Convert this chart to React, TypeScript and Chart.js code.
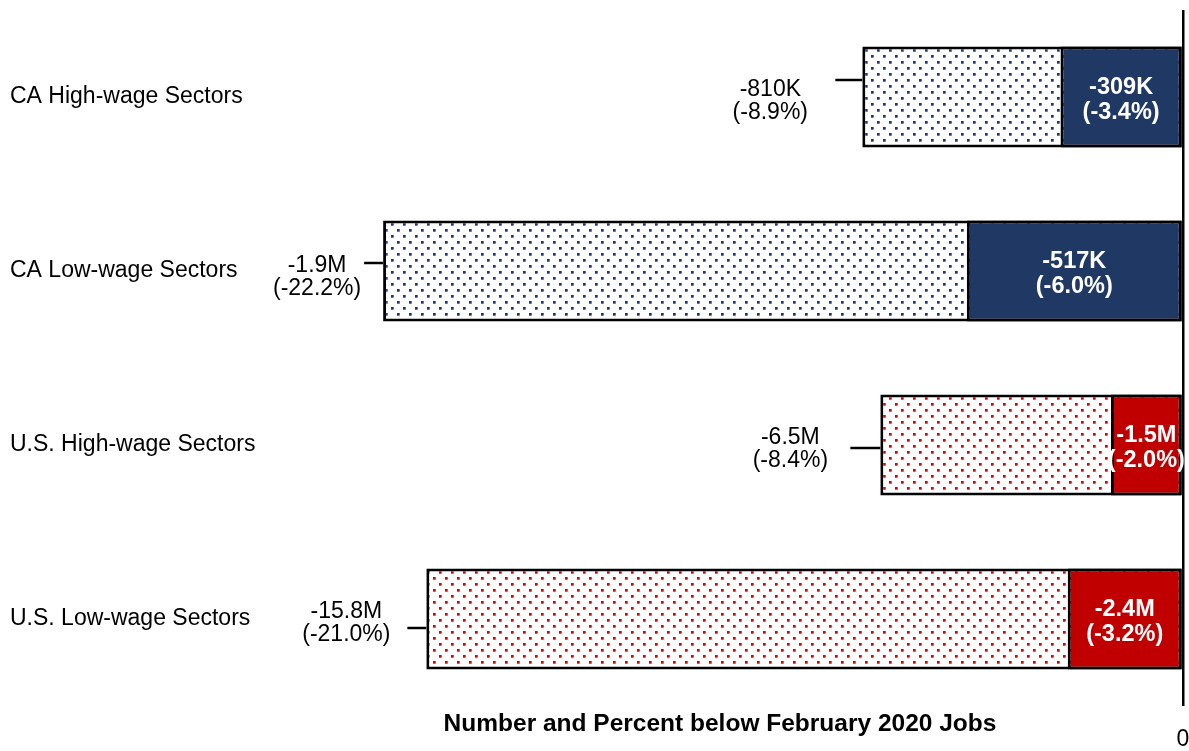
import { useEffect, useRef } from "react";
import { Chart, registerables } from "chart.js";

Chart.register(...registerables);

// Sector groups, top to bottom
const categories = [
  "CA High-wage Sectors",
  "CA Low-wage Sectors",
  "U.S. High-wage Sectors",
  "U.S. Low-wage Sectors",
];

// Deepest loss below February 2020 (dotted bars)
const troughPct = [-8.9, -22.2, -8.4, -21.0];
const troughJobs = ["-810K", "-1.9M", "-6.5M", "-15.8M"];

// Current loss below February 2020 (solid bars)
const currentPct = [-3.4, -6.0, -2.0, -3.2];
const currentJobs = ["-309K", "-517K", "-1.5M", "-2.4M"];

const xTickValues = [0];
const axisTitle = "Number and Percent below February 2020 Jobs";

const FONT = "'Liberation Sans', Arial, Helvetica, sans-serif";
const NAVY = "#203864";
const NAVY_DOT = "#1b357a";
const RED = "#c00000";
const RED_DOT = "#dd0000";

// Placement of the callout text and leader line left of each dotted bar
const CALLOUTS = [
  { textDx: -92, textDy: 4, lineDy: -17, lineLen: 27 },
  { textDx: -66, textDy: 6, lineDy: -8, lineLen: 19 },
  { textDx: -90, textDy: 4, lineDy: 3, lineLen: 30 },
  { textDx: -80, textDy: 4, lineDy: 9, lineLen: 19 },
];

function dotPattern(color: string): CanvasPattern | string {
  const c = document.createElement("canvas");
  c.width = 12;
  c.height = 12;
  const g = c.getContext("2d");
  if (!g) return "#fff";
  g.fillStyle = "#ffffff";
  g.fillRect(0, 0, 12, 12);
  g.fillStyle = color;
  g.fillRect(1, 1, 2.7, 2.7);
  g.fillRect(7, 7, 2.7, 2.7);
  return g.createPattern(c, "repeat") || "#fff";
}

const calloutPlugin = {
  id: "callouts",
  afterDatasetsDraw(chart: any) {
    const ctx: CanvasRenderingContext2D = chart.ctx;
    const solidMeta = chart.getDatasetMeta(0);
    const dottedMeta = chart.getDatasetMeta(1);
    ctx.save();

    // labels left of the dotted bars
    dottedMeta.data.forEach((el: any, i: number) => {
      const { x, y } = el.getProps(["x", "y"], true);
      const c = CALLOUTS[i];
      ctx.strokeStyle = "#000";
      ctx.lineWidth = 2.5;
      ctx.beginPath();
      ctx.moveTo(x - c.lineLen, y + c.lineDy);
      ctx.lineTo(x, y + c.lineDy);
      ctx.stroke();

      ctx.fillStyle = "#000";
      ctx.font = `23px ${FONT}`;
      ctx.textAlign = "center";
      ctx.textBaseline = "middle";
      const lh = 23;
      const cx = x + c.textDx;
      const cy = y + c.textDy;
      ctx.fillText(troughJobs[i], cx, cy - lh / 2);
      ctx.fillText(`(${troughPct[i].toFixed(1)}%)`, cx, cy + lh / 2);
    });

    // labels inside the solid bars
    solidMeta.data.forEach((el: any, i: number) => {
      const { x, y, base } = el.getProps(["x", "y", "base"], true);
      const cx = (x + base) / 2;
      const cy = y + 3;
      const lh = 25;
      ctx.fillStyle = "#ffffff";
      ctx.font = `bold 23.5px ${FONT}`;
      ctx.textAlign = "center";
      ctx.textBaseline = "middle";
      ctx.fillText(currentJobs[i], cx, cy - lh / 2);
      ctx.fillText(`(${currentPct[i].toFixed(1)}%)`, cx, cy + lh / 2);
    });

    ctx.restore();
  },
};

export default function App() {
  const canvasRef = useRef<HTMLCanvasElement | null>(null);

  useEffect(() => {
    const canvas = canvasRef.current;
    if (!canvas) return;
    Chart.defaults.font.family = FONT;

    const navyDots = dotPattern(NAVY_DOT);
    const redDots = dotPattern(RED_DOT);

    const barStyle = {
      borderColor: "#000",
      borderWidth: 3,
      borderSkipped: false,
      grouped: false,
      barPercentage: 0.58,
      categoryPercentage: 1,
    };

    const chart = new Chart(canvas, {
      type: "bar",
      data: {
        labels: categories,
        datasets: [
          {
            label: "Current",
            data: currentPct,
            backgroundColor: [NAVY, NAVY, RED, RED],
            order: 1,
            ...barStyle,
          } as any,
          {
            label: "Trough",
            data: troughPct,
            backgroundColor: [navyDots, navyDots, redDots, redDots],
            order: 2,
            ...barStyle,
          } as any,
        ],
      },
      options: {
        indexAxis: "y",
        responsive: false,
        animation: false,
        layout: { padding: { left: 10, top: 10, right: 17, bottom: 0 } },
        plugins: {
          legend: { display: false },
          tooltip: { enabled: false },
        },
        scales: {
          x: {
            type: "linear",
            min: -25.7,
            max: 0,
            afterBuildTicks: (s: any) => {
              s.ticks = xTickValues.map((v) => ({ value: v }));
            },
            grid: {
              color: "#000",
              lineWidth: 2.5,
              drawTicks: true,
              tickLength: 17,
              tickColor: "rgba(0,0,0,0)",
            },
            border: { display: false },
            ticks: { color: "#000", font: { size: 23 }, padding: 3 },
            title: {
              display: true,
              text: axisTitle,
              color: "#000",
              font: { size: 24.5, weight: "bold" },
              padding: { top: 0, bottom: 12 },
            },
            afterFit: (s: any) => {
              s.height = 45;
            },
          },
          y: {
            grid: { display: false },
            border: { display: false },
            ticks: {
              color: "#000",
              font: { size: 23, lineHeight: 0.85 },
              padding: 0,
              crossAlign: "far",
            },
            afterFit: (s: any) => {
              s.width = 247;
            },
          },
        },
      } as any,
      plugins: [calloutPlugin],
    });

    return () => chart.destroy();
  }, []);

  return (
    <div
      style={{
        position: "fixed",
        left: 0,
        top: 0,
        width: 1189,
        height: 751,
        overflow: "hidden",
        background: "#fff",
      }}
    >
      <div style={{ width: 1200, height: 751 }}>
        <canvas
          ref={canvasRef}
          width={1200}
          height={751}
          style={{ display: "block", width: 1200, height: 751 }}
        />
      </div>
    </div>
  );
}
